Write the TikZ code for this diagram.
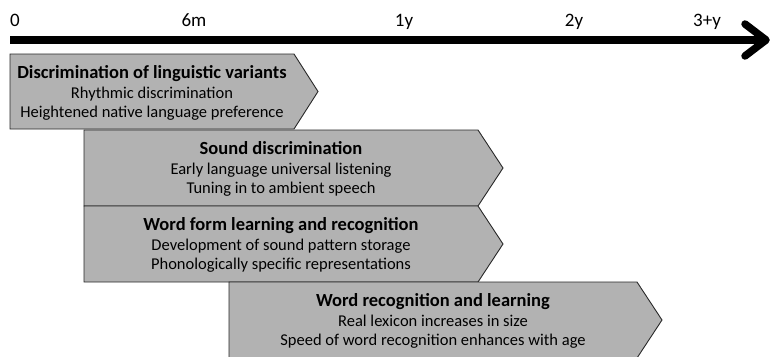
\documentclass[tikz,border=0pt]{standalone}
\usepackage{fontspec}
\setmainfont{Carlito}
\definecolor{boxgray}{RGB}{178,178,178}
\definecolor{boxline}{RGB}{40,40,40}
\newcommand{\phasetitle}[1]{{\fontsize{18.5}{19.5}\selectfont\bfseries #1}}
\tikzset{
	phase/.style={draw=boxline,fill=boxgray,line width=0.9pt},
	phasetext/.style={align=center,inner sep=0pt,font=\fontsize{16.5}{19.5}\selectfont},
	tick/.style={anchor=base,font=\fontsize{19}{21}\selectfont}
}
\begin{document}
\begin{tikzpicture}[x=1pt,y=-1pt]
		\useasboundingbox (0,0) rectangle (773,356);
		%
		\coordinate (t0) at (10,40);
		\coordinate (tend) at (766,40);
		\draw[line width=7.5pt] (t0) -- (tend);
		\draw[line width=7.5pt,line cap=round,line join=round]
		([shift={(-21,-16)}]tend) -- (tend) -- ([shift={(-21,16)}]tend);
		%
		\node[tick] (m0) at (15,27) {0};
		\node[tick] (m6) at (194,27) {6m};
		\node[tick] (y1) at (404,27) {1y};
		\node[tick] (y2) at (574,27) {2y};
		\node[tick] (y3) at (707,27) {3+y};
		%
		\draw[phase]
		(10,54) --
			++(284,0) --
			++(24,37.5) --
			++(-24,37.5) --
			++(-284,0) --
			cycle;
		\draw[phase]
		(84,130) --
			++(394,0) --
			++(25,38) --
			++(-25,38) --
			++(-394,0) --
			cycle;
		\draw[phase]
		(84,206) --
			++(394,0) --
			++(25,38) --
			++(-25,38) --
			++(-394,0) --
			cycle;
		\draw[phase]
		(229,282) --
			++(408,0) --
			++(25,38) --
			++(-25,38) --
			++(-408,0) --
			cycle;
		%
		\node[phasetext] (ling) at (152,93) {\phasetitle{Discrimination of linguistic variants}\\
			Rhythmic discrimination\\
			Heightened native language preference};
		\node[phasetext] (sound) at (281,169) {\phasetitle{Sound discrimination}\\
			Early language universal listening\\
			Tuning in to ambient speech};
		\node[phasetext] (form) at (281,245) {\phasetitle{Word form learning and recognition}\\
			Development of sound pattern storage\\
			Phonologically specific representations};
		\node[phasetext] (recog) at (433,321) {\phasetitle{Word recognition and learning}\\
			Real lexicon increases in size\\
			Speed of word recognition enhances with age};
		%
\end{tikzpicture}
\end{document}
